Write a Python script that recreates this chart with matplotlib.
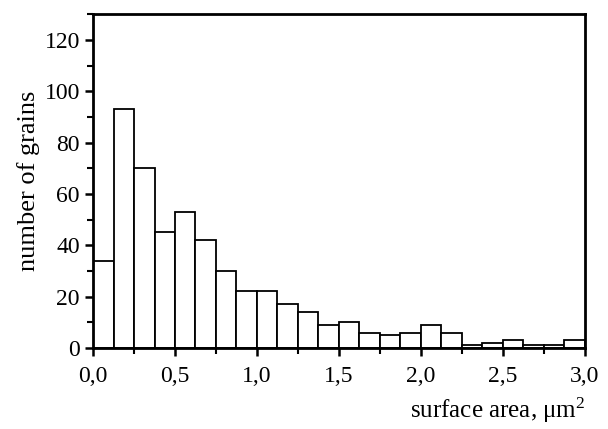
import numpy as np
import matplotlib
matplotlib.use('Agg')
import matplotlib.pyplot as plt
from matplotlib.ticker import MultipleLocator, FuncFormatter

# histogram counts, bins of 0.125 um^2 from 0 to 3.0
bin_left = np.arange(0, 3.0, 0.125)
counts = [34, 93, 70, 45, 53, 42, 30, 22, 22, 17, 14, 9,
          10, 6, 5, 6, 9, 6, 1, 2, 3, 1, 1, 3]
bin_width = 0.125

plt.rcParams['font.family'] = ['Liberation Serif', 'DejaVu Serif']

fig = plt.figure(figsize=(6.08, 4.29), dpi=100)
ax = fig.add_axes([0.153, 0.189, 0.809, 0.778])

ax.bar(bin_left, counts, width=bin_width, align='edge',
       color='white', edgecolor='black', linewidth=1.3)

ax.set_xlim(0, 3.0)
ax.set_ylim(0, 130)
ax.xaxis.set_major_locator(MultipleLocator(0.5))
ax.xaxis.set_minor_locator(MultipleLocator(0.25))
ax.yaxis.set_major_locator(MultipleLocator(20))
ax.yaxis.set_minor_locator(MultipleLocator(10))
ax.xaxis.set_major_formatter(FuncFormatter(lambda v, p: ('%.1f' % v).replace('.', ',')))

for s in ax.spines.values():
    s.set_linewidth(2)
ax.tick_params(which='major', direction='out', length=6, width=1.8, labelsize=17)
ax.tick_params(axis='x', which='major', pad=7)
ax.tick_params(which='minor', direction='out', length=4, width=1.5)
ax.tick_params(top=False, right=False, which='both')

ax.set_ylabel('number of grains', fontsize=19, labelpad=3)
ax.set_xlabel(r'surface area, $\mathregular{\mu m^2}$', fontsize=18, loc='right', labelpad=6)

fig.savefig('out.png', dpi=100)
